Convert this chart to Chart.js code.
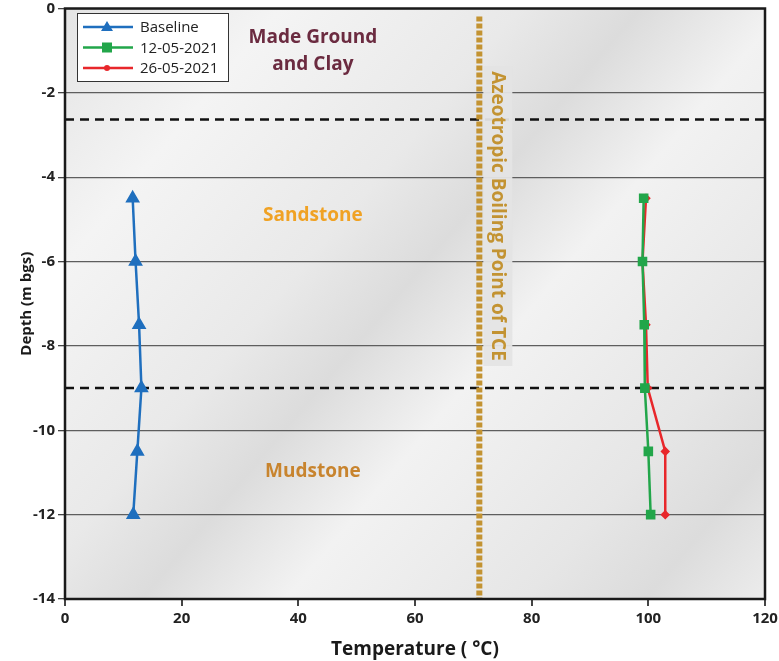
<!DOCTYPE html>
<html lang="en">
<head>
    <meta charset="UTF-8">
    <title>Temperature profile</title>
    <style>
        html, body { margin: 0; padding: 0; background: #fff; }
        #wrap { width: 779px; height: 661px; }
    </style>
</head>
<body>
    <div id="wrap"><canvas id="myChart" width="779" height="661"></canvas></div>

    <script src="https://cdn.jsdelivr.net/npm/chart.js"></script>
    <script>
        // Daten
        const depths = [-4.5, -6, -7.5, -9, -10.5, -12];
        const baseline = [11.6, 12.1, 12.7, 13.1, 12.4, 11.7];
        const run1205 = [99.2, 99.0, 99.3, 99.4, 100.0, 100.4];
        const run2605 = [99.6, 99.0, 99.6, 99.9, 102.9, 102.9];
        const seriesLabels = ['Baseline', '12-05-2021', '26-05-2021'];

        const contactDepths = [-2.63, -9];        // gestrichelte Schichtgrenzen
        const boilingPoint = 70;                   // azeotroper Siedepunkt TCE
        const layerNames = [['Made Ground', 'and Clay'], ['Sandstone'], ['Mudstone']];
        const layerColors = ['#6b2b40', '#f0a224', '#c8842e'];

        const xTicks = [0, 20, 40, 60, 80, 100, 120];
        const yTicks = [0, -2, -4, -6, -8, -10, -12, -14];

        function pairs(xs) {
            return xs.map((v, i) => ({ x: v, y: depths[i] }));
        }

        // Annotationen: Grenzen, Siedepunkt, Schichtnamen
        const decor = {
            id: 'decor',
            beforeDatasetsDraw(chart) {
                const { ctx, chartArea: a, scales } = chart;
                const xs = scales.x, ys = scales.y;
                ctx.save();
                ctx.strokeStyle = '#111';
                ctx.lineWidth = 2.5;
                ctx.setLineDash([9, 6]);
                contactDepths.forEach(d => {
                    const y = ys.getPixelForValue(d);
                    ctx.beginPath();
                    ctx.moveTo(a.left, y);
                    ctx.lineTo(a.right, y);
                    ctx.stroke();
                });
                const bx = xs.getPixelForValue(boilingPoint) + 6;
                ctx.strokeStyle = '#c39332';
                ctx.lineWidth = 6;
                ctx.setLineDash([5, 2]);
                ctx.beginPath();
                ctx.moveTo(bx, a.top + 8);
                ctx.lineTo(bx, a.bottom);
                ctx.stroke();
                ctx.setLineDash([]);
                ctx.fillStyle = 'rgba(228,228,228,0.95)';
                ctx.fillRect(bx + 4, 66, 29, 300);
                ctx.translate(bx + 18, 216);
                ctx.rotate(Math.PI / 2);
                ctx.fillStyle = '#c39332';
                ctx.font = 'bold 19px "Open Sans"';
                ctx.textAlign = 'center';
                ctx.textBaseline = 'middle';
                ctx.fillText('Azeotropic Boiling Point of TCE', 0, 0);
                ctx.restore();

                ctx.save();
                ctx.font = 'bold 19px "Open Sans"';
                ctx.textAlign = 'center';
                ctx.textBaseline = 'middle';
                const lx = xs.getPixelForValue(42.5);
                const pos = [[-0.68, -1.33], [-4.9], [-10.97]];
                layerNames.forEach((lines, i) => {
                    ctx.fillStyle = layerColors[i];
                    lines.forEach((t, j) => ctx.fillText(t, lx, ys.getPixelForValue(pos[i][j])));
                });
                ctx.restore();
            },
            afterDraw(chart) {
                const { ctx, chartArea: a } = chart;
                ctx.save();
                ctx.strokeStyle = '#1a1a1a';
                ctx.lineWidth = 2.5;
                ctx.strokeRect(a.left, a.top, a.right - a.left, a.bottom - a.top);

                // Legende
                ctx.fillStyle = '#fff';
                ctx.fillRect(77, 13, 152, 69);
                ctx.strokeStyle = '#333';
                ctx.lineWidth = 1;
                ctx.strokeRect(77.5, 13.5, 151, 68);
                ctx.font = '15px "Open Sans"';
                ctx.textBaseline = 'middle';
                chart.data.datasets.forEach((ds, i) => {
                    const y = 27 + i * 20.5;
                    ctx.strokeStyle = ds.borderColor;
                    ctx.lineWidth = 2.5;
                    ctx.beginPath();
                    ctx.moveTo(83, y);
                    ctx.lineTo(133, y);
                    ctx.stroke();
                    ctx.fillStyle = ds.borderColor;
                    ctx.beginPath();
                    if (ds.pointStyle === 'triangle') {
                        ctx.moveTo(107, y - 6);
                        ctx.lineTo(113, y + 4);
                        ctx.lineTo(101, y + 4);
                        ctx.closePath();
                        ctx.fill();
                    } else if (ds.pointStyle === 'rect') {
                        ctx.fillRect(102, y - 5, 10, 10);
                    } else {
                        ctx.arc(107, y, 3, 0, Math.PI * 2);
                        ctx.fill();
                    }
                    ctx.fillStyle = '#222';
                    ctx.fillText(ds.label, 140, y + 1);
                });
                ctx.restore();
            }
        };

        const bgPlugin = {
            id: 'bg',
            beforeDraw(chart) {
                const { ctx, chartArea: a } = chart;
                const g = ctx.createLinearGradient(a.left, a.top, a.right, a.bottom);
                g.addColorStop(0, '#e4e4e4');
                g.addColorStop(0.18, '#f4f4f4');
                g.addColorStop(0.38, '#e9e9e9');
                g.addColorStop(0.48, '#dcdcdc');
                g.addColorStop(0.6, '#f2f2f2');
                g.addColorStop(0.8, '#e6e6e6');
                g.addColorStop(0.9, '#dcdcdc');
                g.addColorStop(1, '#ececec');
                ctx.save();
                ctx.fillStyle = g;
                ctx.fillRect(a.left, a.top, a.right - a.left, a.bottom - a.top);
                ctx.restore();
            }
        };

        const data = {
            datasets: [
                {
                    label: seriesLabels[0],
                    data: pairs(baseline),
                    borderColor: '#1f6fbe',
                    backgroundColor: '#1f6fbe',
                    pointStyle: 'triangle',
                    pointRadius: 6,
                    borderWidth: 2.5
                },
                {
                    label: seriesLabels[1],
                    data: pairs(run1205),
                    borderColor: '#22a64a',
                    backgroundColor: '#22a64a',
                    pointStyle: 'rect',
                    pointRadius: 5,
                    borderWidth: 2.5
                },
                {
                    label: seriesLabels[2],
                    data: pairs(run2605),
                    borderColor: '#e8272b',
                    backgroundColor: '#e8272b',
                    pointStyle: 'rectRot',
                    pointRadius: 3,
                    borderWidth: 2.5
                }
            ]
        };

        const tickFont = { family: '"Open Sans"', size: 15, weight: 'bold' };

        const config = {
            type: 'scatter',
            data: data,
            options: {
                responsive: false,
                animation: false,
                showLine: true,
                layout: { padding: { top: 5, right: 14, left: 18, bottom: 0 } },
                plugins: {
                    legend: { display: false },
                    tooltip: { enabled: false }
                },
                scales: {
                    x: {
                        type: 'linear',
                        min: 0,
                        max: 120,
                        afterBuildTicks: s => { s.ticks = xTicks.map(v => ({ value: v })); },
                        grid: { drawOnChartArea: false, tickLength: 7, tickColor: '#444', lineWidth: 2 },
                        border: { display: false },
                        ticks: { font: tickFont, color: '#222', padding: 4 },
                        title: {
                            display: true,
                            text: 'Temperature ( °C)',
                            font: { family: '"Open Sans"', size: 19, weight: 'bold' },
                            color: '#1a1a1a',
                            padding: { top: 2, bottom: 0 }
                        },
                        afterFit: s => {
                            s.height = 62;
                            s.paddingLeft = 0;
                            s.paddingRight = 0;
                        }
                    },
                    y: {
                        type: 'linear',
                        min: -14,
                        max: 0,
                        afterBuildTicks: s => { s.ticks = yTicks.map(v => ({ value: v })); },
                        grid: { color: '#5e5e5e', lineWidth: 1.3, tickLength: 7, tickColor: '#444' },
                        border: { display: false },
                        ticks: { font: tickFont, color: '#222', padding: 3 },
                        title: {
                            display: true,
                            text: 'Depth (m bgs)',
                            font: { family: '"Open Sans"', size: 15, weight: 'bold' },
                            color: '#1a1a1a',
                            padding: { top: 0, bottom: 4 }
                        },
                        afterFit: s => {
                            s.width = 47;
                            s.paddingTop = 0;
                            s.paddingBottom = 0;
                        }
                    }
                }
            },
            plugins: [bgPlugin, decor]
        };

        const ctx = document.querySelector('#myChart').getContext('2d');
        new Chart(ctx, config);
    </script>
</body>
</html>
